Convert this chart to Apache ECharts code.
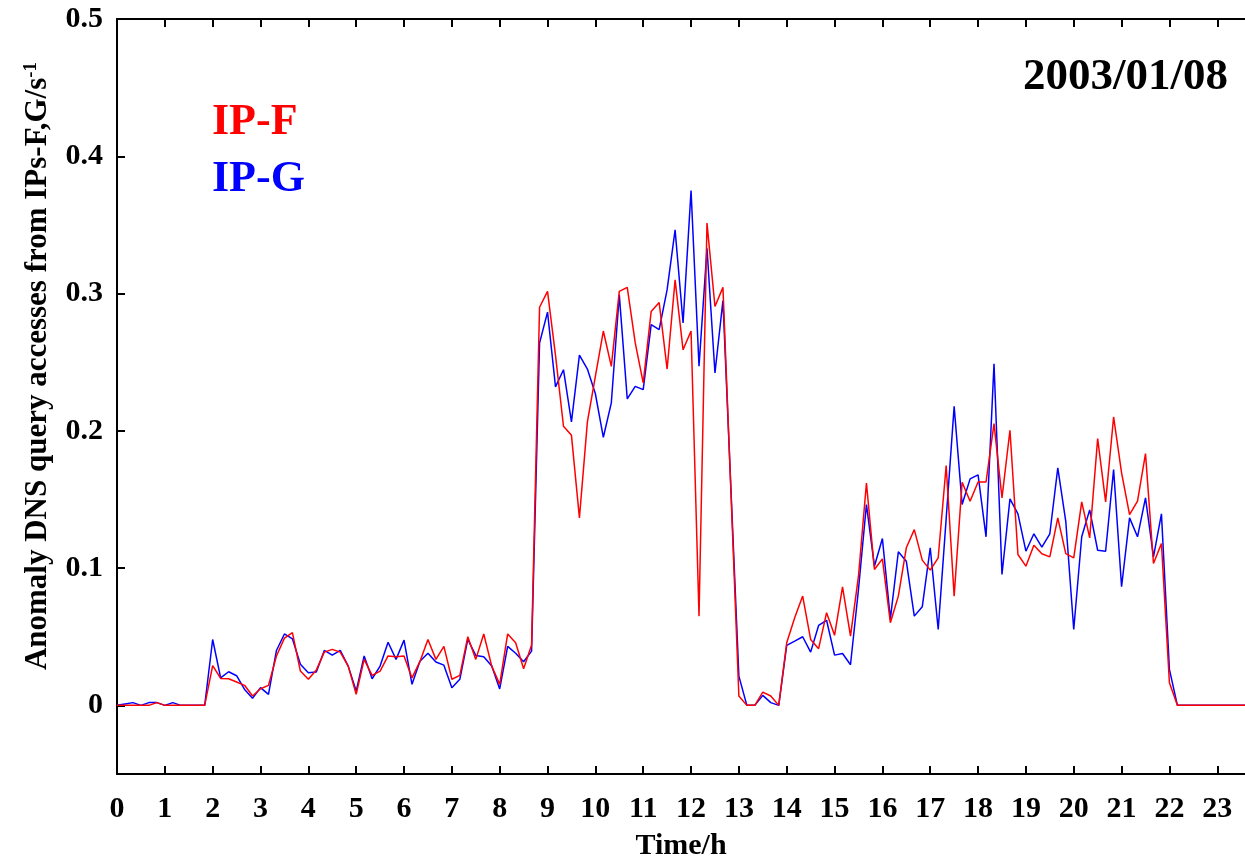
<!DOCTYPE html>
<html>
<head>
<meta charset="utf-8">
<script src="https://cdn.jsdelivr.net/npm/echarts@6/dist/echarts.min.js"></script>
<style>html,body{margin:0;padding:0;background:#fff;}#c{width:1245px;height:862px;}</style>
</head>
<body>
<div id="c"></div>
<script>
// 10-minute samples (hours), values in G/s
var stepH = 1 / 6;
var ipF = [
  0,0,0,0,0,0.002,0,0,0,0,0,0,
  0.029,0.0196,0.0194,0.017,0.0146,0.0068,0.0121,0.0146,0.036,0.049,0.053,0.025,0.019,0.0257,0.0388,0.0408,0.0388,0.0286,0.008,0.0335,0.0218,0.025,0.036,0.0354,0.036,0.020,0.032,0.048,0.0335,0.043,0.019,0.0218,0.050,0.0335,0.052,0.0286,0.0153,0.052,0.0456,0.0267,0.044,
  0.290,0.3016,0.255,0.2033,0.1967,0.1366,0.2065,0.2397,0.2727,0.247,0.3016,0.3045,0.264,0.2349,0.287,0.2935,0.245,0.310,0.259,0.2727,0.065,0.3513,0.2906,0.3045,
  0.156,
  0.0068,0,0,0.0097,0.0068,0,0.0456,0.0638,0.0796,0.048,0.0413,0.0675,0.051,0.0864,0.0505,0.0941,0.162,0.099,0.1067,0.0602,0.0796,0.1148,0.128,0.1058,0.0985,0.1075,0.1747,0.0796,0.1625,0.1487,0.1627,0.1627,
  0.2052,0.1511,0.2004,0.1099,0.1014,0.1167,0.1104,0.1082,0.1366,0.1106,0.1075,0.1482,0.122,0.1943,0.1482,0.2101,0.1694,0.139,0.1487,0.1834,0.1033,0.1179,0.0165,0,
  0,0,0,0,0,0,0,0,0,0
];
var ipG = [
  0,0.001,0.002,0,0.002,0.002,0,0.002,0,0,0,0,
  0.048,0.020,0.0245,0.0216,0.0116,0.0051,0.0129,0.008,0.040,0.052,0.0485,0.030,0.0238,0.0243,0.040,0.0366,0.040,0.0286,0.0104,0.036,0.0194,0.0286,0.046,0.0335,0.0475,0.0153,0.0322,0.038,0.0316,0.0293,0.0129,0.019,0.048,0.0364,0.0354,0.0286,0.012,0.043,0.038,0.0318,0.0395,
  0.264,0.2865,0.232,0.2445,0.2065,0.2552,0.245,0.227,0.1953,0.2203,0.299,0.2232,0.2324,0.230,0.2773,0.2737,0.3028,0.3464,0.2785,0.375,0.247,0.333,0.2421,0.2948,
  0.158,
  0.0213,0,0,0.0073,0.002,0,0.0437,0.0468,0.050,0.0388,0.0582,0.062,0.0366,0.0378,0.0296,0.0844,0.1463,0.1014,0.1215,0.063,0.1119,0.105,0.065,0.0718,0.1148,0.0553,0.136,0.2178,0.1463,0.165,0.1679,0.1228,
  0.2489,0.0953,0.1504,0.1395,0.1123,0.125,0.1152,0.125,0.173,0.1341,0.0553,0.1228,0.1424,0.113,0.1123,0.1718,0.0864,0.1366,0.1228,0.1511,0.1082,0.1395,0.0262,0,
  0,0,0,0,0,0,0,0,0,0
];
var xTicks = [0,1,2,3,4,5,6,7,8,9,10,11,12,13,14,15,16,17,18,19,20,21,22,23];
var yTicks = [0,0.1,0.2,0.3,0.4,0.5];
var titleText = '2003/01/08';
var legendNames = ['IP-F','IP-G'];

function pairs(vals){ return vals.map(function(v,i){ return [i*stepH, v]; }); }

var FONT = '"Liberation Serif","Times New Roman",serif';
var chart = echarts.init(document.getElementById('c'));
var axisLineStyle = {color:'#000', width:2};
chart.setOption({
  animation:false,
  backgroundColor:'#fff',
  grid:{left:117, top:19, right:0, bottom:88, containLabel:false, outerBoundsMode:'none'},
  xAxis:[{
    type:'value', min:0, max:23.58, position:'bottom',
    axisLine:{show:true, onZero:false, lineStyle:axisLineStyle},
    axisTick:{show:true, inside:true, length:8, lineStyle:{color:'#000', width:2}, customValues:xTicks},
    axisLabel:{customValues:xTicks, color:'#000', fontFamily:FONT, fontWeight:'bold', fontSize:30, margin:20},
    splitLine:{show:false},
    name:'Time/h', nameLocation:'middle', nameGap:57,
    nameTextStyle:{color:'#000', fontFamily:FONT, fontWeight:'bold', fontSize:30}
  },{
    type:'value', min:0, max:23.58, position:'top',
    axisLine:{show:true, onZero:false, lineStyle:axisLineStyle},
    axisTick:{show:true, inside:true, length:8, lineStyle:{color:'#000', width:2}, customValues:xTicks},
    axisLabel:{show:false},
    splitLine:{show:false}
  }],
  yAxis:{
    type:'value', min:-0.05, max:0.5,
    axisLine:{show:true, onZero:false, lineStyle:axisLineStyle},
    axisTick:{show:true, inside:true, length:8, lineStyle:{color:'#000', width:2}, customValues:yTicks},
    axisLabel:{customValues:yTicks, color:'#000', fontFamily:FONT, fontWeight:'bold', fontSize:30, margin:14,
      formatter:function(v){ return v===0 ? '0' : v.toFixed(1); }},
    splitLine:{show:false}
  },
  graphic:[
    {type:'text', x:38, y:366, rotation:Math.PI/2,
     style:{text:'{m|Anomaly DNS query accesses from IPs-F,G/s}{s|-1}',
       align:'center', verticalAlign:'middle', fill:'#000',
       rich:{
         m:{fontFamily:FONT, fontWeight:'bold', fontSize:31, lineHeight:32, fill:'#000'},
         s:{fontFamily:FONT, fontWeight:'bold', fontSize:19, verticalAlign:'top', fill:'#000'}
       }}},
    {type:'text', x:1228, y:77, style:{text:titleText, align:'right', verticalAlign:'middle', fill:'#000',
      font:'bold 45px ' + FONT}},
    {type:'text', x:212, y:123, style:{text:legendNames[0], align:'left', verticalAlign:'middle', fill:'#ff0000',
      font:'bold 44px ' + FONT}},
    {type:'text', x:212, y:180, style:{text:legendNames[1], align:'left', verticalAlign:'middle', fill:'#0000ff',
      font:'bold 44px ' + FONT}}
  ],
  series:[
    {name:legendNames[1], type:'line', data:pairs(ipG), showSymbol:false, symbol:'none',
     lineStyle:{color:'#0000ff', width:1.5}, itemStyle:{color:'#0000ff'}},
    {name:legendNames[0], type:'line', data:pairs(ipF), showSymbol:false, symbol:'none',
     lineStyle:{color:'#ff0000', width:1.5}, itemStyle:{color:'#ff0000'}}
  ]
});
</script>
</body>
</html>
